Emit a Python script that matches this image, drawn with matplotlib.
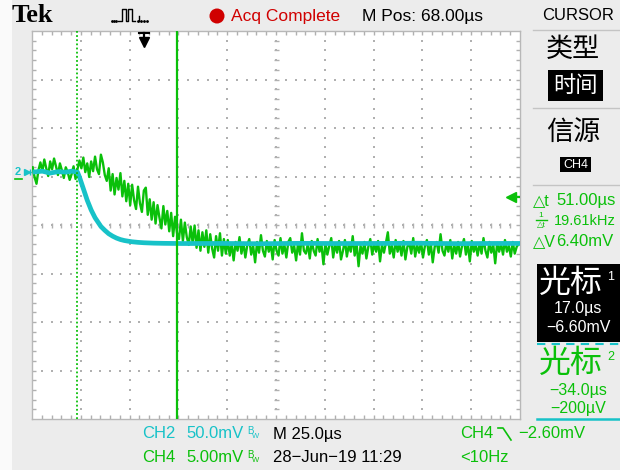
import numpy as np
import matplotlib
matplotlib.use('Agg')
import matplotlib.pyplot as plt
from matplotlib.patches import Rectangle, Circle
from matplotlib.collections import LineCollection
import matplotlib.transforms as mtrans

# ---------------- data ----------------
time_per_div_us = 25.0
ch2_mv_per_div = 50.0
ch4_mv_per_div = 5.0
x_left_us = -57.3          # time at left edge of graticule
ground_div_from_top = 2.91 # both channels' ground marker position

# CH4 (green) samples, 1 us apart, starting at -57 us
ch4_t_start = -57
ch4_mv = [
    0.5, -0.5, -1.2, 0.2, 1.0, 0.1, 1.3, 0.4, -0.4, 1.1,
    0.3, 1.4, 0.6, -0.3, 0.9, 0.2, -0.6, 0.5, 0.0, -0.8,
    -0.2, 0.6, -0.7, 0.3, 1.2, 0.4, 1.5, 0.0, 0.9, -0.5,
    1.1, 0.1, 1.6, 0.3, -0.2, 1.8, 1.0, -0.3, -0.9, 0.4,
    -1.9, -0.2, -2.3, -0.6, -1.8, -0.1, -2.5, -0.9, -3.0, -1.2,
    -3.4, -1.3, -2.9, -3.8, -1.5, -3.2, -4.1, -1.9, -1.6, -4.4,
    -2.8, -4.9, -3.1, -5.3, -3.4, -4.7, -5.8, -3.5, -5.4, -4.0,
    -6.1, -4.2, -6.6, -4.6, -6.3, -6.9, -4.9, -7.1, -5.2, -6.7,
    -7.5, -5.6, -7.3, -5.5, -7.8, -6.0, -8.1, -6.2, -7.7, -6.0,
    -8.3, -6.4, -7.9, -8.8, -6.6, -8.1, -6.3, -8.6, -6.9, -8.4,
    -7.0, -8.6, -7.4, -9.1, -7.2, -8.1, -6.7, -8.4, -7.3, -8.8,
    -7.5, -6.9, -8.5, -7.6, -9.3, -7.2, -8.3, -6.5, -8.1, -8.7,
    -7.1, -8.2, -7.4, -9.0, -7.0, -8.1, -8.6, -6.8, -8.4, -7.5,
    -8.8, -7.2, -6.8, -8.3, -7.6, -9.1, -7.3, -8.5, -6.3, -8.1,
    -8.4, -7.4, -8.9, -7.1, -8.1, -8.6, -6.9, -8.2, -7.5, -9.5,
    -7.3, -8.5, -7.6, -6.8, -8.8, -7.4, -8.3, -7.1, -9.0, -8.1,
    -7.0, -8.7, -7.5, -8.2, -6.6, -8.6, -7.4, -9.7, -7.6, -8.4,
    -7.2, -8.9, -7.7, -6.9, -8.5, -7.4, -8.2, -7.1, -9.2, -7.5,
    -8.3, -7.3, -6.2, -8.4, -7.6, -8.8, -7.0, -8.2, -7.4, -8.6,
    -7.1, -9.0, -7.7, -7.3, -8.4, -6.8, -8.7, -7.5, -8.3, -7.2,
    -8.8, -7.6, -7.0, -8.5, -7.4, -9.3, -7.7, -7.2, -8.3, -6.4,
    -8.1, -8.6, -7.3, -8.2, -7.0, -8.9, -7.5, -8.4, -7.2, -8.7,
    -7.6, -6.9, -8.5, -7.4, -9.2, -7.1, -8.2, -7.5, -8.6, -7.3,
    -8.4, -6.8, -8.1, -8.8, -7.2, -8.3, -7.5, -9.4, -7.3, -8.2,
    -7.4, -8.5, -7.0, -8.2, -7.6, -8.7, -7.2, -8.4, -7.7, -7.4,
]

# CH2 (cyan) trace
ch2_t = [-57, -52, -48, -44, -40, -37, -34, -33, -32, -31, -30, -29, -28, -27,
         -26, -25, -24, -22, -20, -18, -16, -14, -12, -10, -8, -6, -3, 0, 5,
         10, 20, 40, 60, 80, 100, 120, 140, 160, 180, 192.7]
ch2_mv = [0.0, 1.0, -1.0, 0.5, 0.0, 1.0, 0.0, -5.0, -11.0, -17.0, -23.0, -29.0,
          -34.0, -39.0, -43.0, -47.0, -50.0, -56.0, -60.0, -63.5, -66.0, -68.0,
          -69.5, -70.5, -71.2, -71.8, -72.4, -72.8, -73.2, -73.4, -73.6, -73.5,
          -73.8, -73.4, -73.6, -73.5, -73.3, -73.7, -73.5, -73.5]

cursor1_us = 17.0
cursor2_us = -34.0
trigger_us = 0.0
trig_level_mv = -2.60

# ---------------- styling ----------------
GREEN = '#0ac00a'
CYAN = '#17c2c8'
RED = '#d00000'
GRID = '#b0b0b0'
SANS = ['Liberation Sans', 'DejaVu Sans']
CJK = ['Noto Sans CJK SC', 'DejaVu Sans']

fig = plt.figure(figsize=(6.2, 4.7), dpi=100)
fig.patch.set_facecolor('#ececec')

bg = fig.add_axes([0, 0, 1, 1])
bg.set_xlim(0, 620)
bg.set_ylim(470, 0)
bg.axis('off')
bg.add_patch(Rectangle((0, 0), 12, 470, color='#fafafa', lw=0))

# graticule axes
L, T, W, H = 32, 31, 488, 388
ax = fig.add_axes([L / 620, (470 - T - H) / 470, W / 620, H / 470])
ax.set_facecolor('white')
ax.set_xlim(x_left_us, x_left_us + 10 * time_per_div_us)
ax.set_ylim(ground_div_from_top - 8, ground_div_from_top)
ax.set_xticks([])
ax.set_yticks([])
for s in ax.spines.values():
    s.set_color('#b8b8b8')
    s.set_linewidth(1.0)

# grid dots
gx, gy = [], []
for k in range(1, 10):
    for j in range(1, 40):
        gx.append(k / 10); gy.append(j / 40)
for k in range(1, 8):
    for j in range(1, 50):
        gx.append(j / 50); gy.append(k / 8)
ax.scatter(gx, gy, s=1.4, marker='s', color=GRID, lw=0, transform=ax.transAxes, zorder=1)

segs = []
tl = 4.0
for j in range(1, 50):
    x = j / 50
    segs.append([(x, 1), (x, 1 - tl / H)])
    segs.append([(x, 0), (x, tl / H)])
    segs.append([(x, 0.5 - 2.5 / H), (x, 0.5 + 2.5 / H)])
for j in range(1, 40):
    y = j / 40
    segs.append([(0, y), (tl / W, y)])
    segs.append([(1, y), (1 - tl / W, y)])
    segs.append([(0.5 - 2.5 / W, y), (0.5 + 2.5 / W, y)])
ax.add_collection(LineCollection(segs, colors=GRID, linewidths=1.0,
                                 transform=ax.transAxes, zorder=1))

# traces
ch4_t = np.arange(ch4_t_start, ch4_t_start + len(ch4_mv))
ax.plot(ch4_t, np.array(ch4_mv) / ch4_mv_per_div, color=GREEN, lw=1.7, zorder=3)
ax.plot(ch2_t, np.array(ch2_mv) / ch2_mv_per_div, color=CYAN, lw=3.4,
        solid_capstyle='butt', zorder=4)

# cursors
ax.axvline(cursor1_us, color=GREEN, lw=1.6, zorder=5)
ax.axvline(cursor2_us, color=GREEN, lw=1.3, ls=(0, (1, 1.3)), zorder=5)

# trigger position arrow
bt = mtrans.blended_transform_factory(ax.transData, ax.transAxes)
ax.plot([trigger_us, trigger_us], [1 - 1.5 / H, 1 - 9 / H], color='black', lw=1.6,
        transform=bt, zorder=6, clip_on=False)
ax.plot([trigger_us - 5 / W * 250, trigger_us + 5 / W * 250], [1 - 2 / H] * 2,
        color='black', lw=1.5, transform=bt, zorder=6, clip_on=False)
ax.plot([trigger_us], [1 - 11 / H], marker='v', ms=7, color='black', transform=bt,
        zorder=6, clip_on=False)

# trigger level arrow (right)
br = mtrans.blended_transform_factory(ax.transAxes, ax.transData)
lev = trig_level_mv / ch4_mv_per_div
ax.plot([0.982, 0.998], [lev, lev], color=GREEN, lw=1.6, transform=br, zorder=6)
ax.plot([0.982], [lev], marker='<', ms=7, color=GREEN, transform=br, zorder=6)

# ground marker (left)
bl = mtrans.blended_transform_factory(bg.transData, ax.transData)
bg.text(18, 0, '2', color=CYAN, fontsize=8, fontweight='bold', ha='center',
        va='center', transform=bl, family=SANS)
bg.plot([14.5, 21.5], [-0.15, -0.15], color=GREEN, lw=1.2, transform=bl, clip_on=False)
bg.plot([26.5], [0], marker='>', ms=4, color=CYAN, transform=bl, clip_on=False)
bg.plot([30], [0], marker='+', ms=4, mew=1, color=CYAN, transform=bl, clip_on=False)

# ---------------- header ----------------
bg.text(12, 16, 'Tek', fontsize=19, fontweight='bold', family=['Liberation Serif', 'DejaVu Serif'],
        va='center', ha='left', color='black')
px = [118, 122, 122, 126, 126, 128, 128, 132, 132, 135]
py = [21, 21, 9, 9, 21, 21, 9, 9, 21, 21]
bg.plot(px, py, color='black', lw=1.0)
bg.plot([112, 114, 116, 138, 141, 144, 147], [21] * 7, ls='none', marker='.', ms=2, color='black')
bg.plot([139, 139], [21, 16], color='black', lw=1.0)
bg.add_patch(Circle((217, 16), 7.5, color=RED, lw=0))
bg.text(231, 16, 'Acq Complete', color=RED, fontsize=12.5, family=SANS, va='center', ha='left')
bg.text(362, 16, 'M Pos: 68.00\u00b5s', color='black', fontsize=12.5, family=SANS,
        va='center', ha='left')
bg.text(542, 16, 'CURSOR', color='black', fontsize=12, family=SANS, va='center', ha='left')

# ---------------- right panel ----------------
for yy in (30, 108, 185):
    bg.plot([533, 620], [yy, yy], color='#c4c4c4', lw=1.0)
bg.text(573, 49, '类型', fontsize=19.5, family=CJK, ha='center', va='center', color='black')
bg.add_patch(Rectangle((548, 70), 55, 31, color='black', lw=0))
bg.text(575.5, 85.5, '时间', fontsize=16, family=CJK, ha='center', va='center', color='white')
bg.text(573, 132, '信源', fontsize=19.5, family=CJK, ha='center', va='center', color='black')
bg.add_patch(Rectangle((560, 157), 31, 15, color='black', lw=0))
bg.text(575.5, 164.5, 'CH4', fontsize=9, family=SANS, ha='center', va='center', color='white')

bg.text(533, 201, '\u25b3t', fontsize=11.5, family=SANS, ha='left', va='center', color=GREEN)
bg.text(556, 201, '51.00\u00b5s', fontsize=12, family=SANS, ha='left', va='center', color=GREEN)
bg.text(541, 215.5, '1', fontsize=6, family=SANS, ha='center', va='center', color=GREEN)
bg.plot([535.5, 546.5], [220, 220], color=GREEN, lw=1)
bg.text(541, 225, '\u25b3t', fontsize=6, family=SANS, ha='center', va='center', color=GREEN)
bg.text(554, 221, '19.61kHz', fontsize=10.5, family=SANS, ha='left', va='center', color=GREEN)
bg.text(533, 242, '\u25b3V', fontsize=11.5, family=SANS, ha='left', va='center', color=GREEN)
bg.text(556, 242, '6.40mV', fontsize=12, family=SANS, ha='left', va='center', color=GREEN)

bg.add_patch(Rectangle((537, 264), 83, 78, color='black', lw=0))
bg.text(571, 283, '光标', fontsize=23, family=CJK, ha='center', va='center', color='white')
bg.text(611, 277, '1', fontsize=9, family=SANS, ha='center', va='center', color='white')
bg.text(578, 309, '17.0\u00b5s', fontsize=11.5, family=SANS, ha='center', va='center', color='white')
bg.text(578, 327, '\u22126.60mV', fontsize=11.5, family=SANS, ha='center', va='center', color='white')
bg.plot([537, 620], [343.5, 343.5], color=CYAN, lw=1.5, ls=(0, (4, 3)))

bg.text(571, 363, '光标', fontsize=23, family=CJK, ha='center', va='center', color=GREEN)
bg.text(611, 357, '2', fontsize=9, family=SANS, ha='center', va='center', color=GREEN)
bg.text(578, 390, '\u221234.0\u00b5s', fontsize=11.5, family=SANS, ha='center', va='center', color=GREEN)
bg.text(578, 408, '\u2212200\u00b5V', fontsize=11.5, family=SANS, ha='center', va='center', color=GREEN)
bg.plot([537, 620], [419, 419], color=CYAN, lw=1.8)

# ---------------- footer ----------------
def bw(x, y, c):
    bg.text(x, y - 3, 'B', fontsize=7, family=SANS, ha='left', va='center', color=c)
    bg.text(x + 5, y + 2.5, 'W', fontsize=5.5, family=SANS, ha='left', va='center', color=c)

r1, r2 = 434, 458
bg.text(142, r1, 'CH2', fontsize=12, family=SANS, ha='left', va='center', color=CYAN)
bg.text(186, r1, '50.0mV', fontsize=12, family=SANS, ha='left', va='center', color=CYAN)
bw(247, r1, CYAN)
bg.text(273, r1, 'M 25.0\u00b5s', fontsize=12, family=SANS, ha='left', va='center', color='black')
bg.text(460, r1, 'CH4', fontsize=12, family=SANS, ha='left', va='center', color=GREEN)
bg.plot([498, 503, 511], [428, 428, 440], color=GREEN, lw=1.2)
bg.text(518, r1, '\u22122.60mV', fontsize=12, family=SANS, ha='left', va='center', color=GREEN)

bg.text(142, r2, 'CH4', fontsize=12, family=SANS, ha='left', va='center', color=GREEN)
bg.text(186, r2, '5.00mV', fontsize=12, family=SANS, ha='left', va='center', color=GREEN)
bw(247, r2, GREEN)
bg.text(273, r2, '28\u2212Jun\u221219 11:29', fontsize=12, family=SANS, ha='left', va='center', color='black')
bg.text(460, r2, '<10Hz', fontsize=12, family=SANS, ha='left', va='center', color=GREEN)

fig.savefig('out.png', dpi=100, facecolor=fig.get_facecolor())
